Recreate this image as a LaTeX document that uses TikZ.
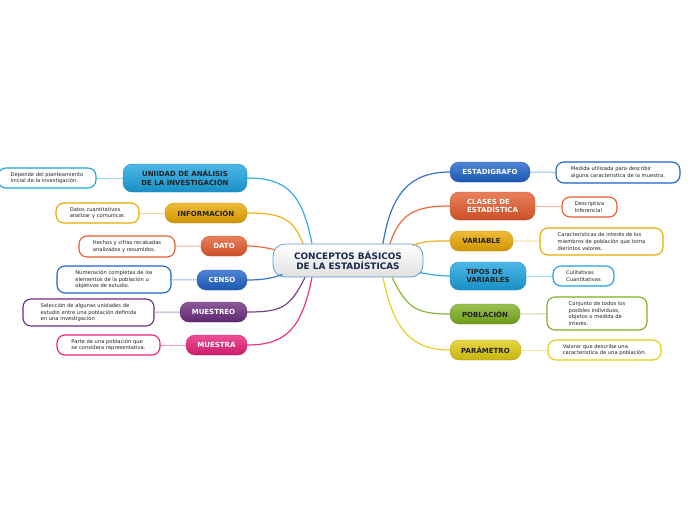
\documentclass[tikz,border=0pt]{standalone}
\usepackage{fontspec}
\setmainfont{DejaVu Sans}
\usetikzlibrary{calc}
\definecolor{cblue}{HTML}{1E63C8}
\definecolor{corange}{HTML}{E55B2D}
\definecolor{cgold}{HTML}{EBA900}
\definecolor{clight}{HTML}{1BA3E0}
\definecolor{cgreen}{HTML}{7DAF1E}
\definecolor{cyellow}{HTML}{E3CB10}
\definecolor{cpurple}{HTML}{6B2C7E}
\definecolor{cpink}{HTML}{E91E7A}
\definecolor{cnavy}{HTML}{1A2850}
\definecolor{cborder}{HTML}{5B9BD5}
\definecolor{ctext}{HTML}{222222}
\tikzset{
  br/.style={rounded corners=9pt, inner sep=0pt, align=center,
    font=\fontsize{7}{8.6}\selectfont\bfseries,
    top color=#1!78!white, bottom color=#1!88!black, draw=#1!80!black, line width=0.3pt},
  wt/.style={text=white},
  dk/.style={text=ctext},
  nt/.style={draw=#1, line width=1.1pt, rounded corners=8pt, fill=white, inner sep=0pt,
    align=left, text=ctext, font=\fontsize{5.2}{6.8}\selectfont},
  conn/.style={draw=#1!90!white, line width=1.2pt},
  nl/.style={draw=#1!45!white, line width=1pt},
}
\begin{document}
\begin{tikzpicture}[x=1pt,y=-1pt]
\useasboundingbox (0,0) rectangle (696,520);
% central
\node[draw=cborder, line width=0.8pt, rounded corners=12pt, top color=white, bottom color=black!12!white,
  minimum width=150pt, minimum height=33pt, inner sep=0pt, align=center, text=cnavy,
  font=\fontsize{8.9}{10.6}\selectfont\bfseries] (c) at (348,260.5) {CONCEPTOS BÁSICOS\\DE LA ESTADÍSTICAS};
% right branches
\node[br=cblue, wt, minimum width=80pt, minimum height=20pt] (est) at (490,172) {ESTADIGRAFO};
\node[br=corange, wt, minimum width=85pt, minimum height=28pt, align=left] (cla) at (492.5,206) {CLASES DE\\ESTADÍSTICA};
\node[br=cgold, dk, minimum width=63pt, minimum height=20pt] (var) at (481.5,241) {VARIABLE};
\node[br=clight, dk, minimum width=76pt, minimum height=28pt, align=left] (tip) at (488,276) {TIPOS DE\\VARIABLES};
\node[br=cgreen, dk, minimum width=70pt, minimum height=20pt] (pob) at (485,314) {POBLACIÓN};
\node[br=cyellow, dk, minimum width=71pt, minimum height=20pt] (par) at (485.5,350) {PARÁMETRO};
% right notes
\node[nt=cblue, minimum width=124pt, minimum height=21pt] (nest) at (618,172.5) {Medida utilizada para describir\\alguna caracteristica de la muestra.};
\node[nt=corange, minimum width=55pt, minimum height=20pt] (ncla) at (589.5,207) {Descriptiva\\Inferencial};
\node[nt=cgold, minimum width=123pt, minimum height=27pt] (nvar) at (601.5,241.5) {Características de interés de los\\miembros de población que toma\\dierintos valores.};
\node[nt=clight, minimum width=61pt, minimum height=20pt] (ntip) at (583.5,276) {Culitativas\\Cuantitativas};
\node[nt=cgreen, minimum width=100pt, minimum height=33pt] (npob) at (597,313.5) {Conjunto de todos los\\posibles individuos,\\objetos o medida de\\interés.};
\node[nt=cyellow, minimum width=113pt, minimum height=20pt] (npar) at (604.5,350) {Valorar que describe una\\caracteristica de una población.};
% left branches
\node[br=clight, dk, minimum width=124pt, minimum height=28pt] (uni) at (185,178) {UNIIDAD DE ANÁLISIS\\DE LA INVESTIGACIÓN};
\node[br=cgold, dk, minimum width=82pt, minimum height=20pt] (inf) at (206,213) {INFORMACIÓN};
\node[br=corange, wt, minimum width=46pt, minimum height=20pt] (dat) at (224,246) {DATO};
\node[br=cblue, wt, minimum width=50pt, minimum height=20pt] (cen) at (222,280) {CENSO};
\node[br=cpurple, wt, minimum width=67pt, minimum height=20pt] (mtr) at (213.5,312) {MUESTREO};
\node[br=cpink, wt, minimum width=61pt, minimum height=20pt] (mta) at (216.5,345) {MUESTRA};
% left notes
\node[nt=clight, minimum width=98pt, minimum height=20pt] (nuni) at (47,178) {Depende del planteamiento\\inicial de la investigación.};
\node[nt=cgold, minimum width=83pt, minimum height=20pt] (ninf) at (97.5,213) {Datos cuantitativos\\analizar y comunicar.};
\node[nt=corange, minimum width=96pt, minimum height=21pt] (ndat) at (127,246.5) {Hechos y cifras recabadas\\analizados y resumidos.};
\node[nt=cblue, minimum width=114pt, minimum height=27pt] (ncen) at (114,279.5) {Numeración completas de los\\elementos de la población u\\objetivos de estudio.};
\node[nt=cpurple, minimum width=131pt, minimum height=27pt] (nmtr) at (88.5,312.5) {Selección de algunas unidades de\\estudio entre una población definida\\en una investigación};
\node[nt=cpink, minimum width=103pt, minimum height=20pt] (nmta) at (108.5,345) {Parte de una población que\\se considera representativa.};
% connectors central -> branches
\path[conn=cblue] ($(c.north)+(35,0)$) .. controls +(8,-50) and +(-40,0) .. (est.west);
\path[conn=corange] ($(c.north)+(42,0)$) .. controls +(10,-30) and +(-35,0) .. (cla.west);
\path[conn=cgold] ($(c.north)+(65,2)$) .. controls +(10,-5) and +(-15,0) .. (var.west);
\path[conn=clight] ($(c.east)+(-4,12)$) .. controls +(10,2) and +(-10,0) .. (tip.west);
\path[conn=cgreen] ($(c.south)+(44,0)$) .. controls +(15,30) and +(-35,0) .. (pob.west);
\path[conn=cyellow] ($(c.south)+(35,0)$) .. controls +(10,50) and +(-40,0) .. (par.west);
\path[conn=clight] ($(c.north)+(-36,0)$) .. controls +(-10,-50) and +(40,0) .. (uni.east);
\path[conn=cgold] ($(c.north)+(-45,0)$) .. controls +(-10,-25) and +(35,0) .. (inf.east);
\path[conn=corange] ($(c.west)+(2,-11)$) .. controls +(-10,-2) and +(10,0) .. (dat.east);
\path[conn=cblue] ($(c.west)+(10,14)$) .. controls +(-12,4) and +(15,0) .. (cen.east);
\path[conn=cpurple] ($(c.south)+(-43,0)$) .. controls +(-15,30) and +(35,0) .. (mtr.east);
\path[conn=cpink] ($(c.south)+(-36,0)$) .. controls +(-10,50) and +(40,0) .. (mta.east);
% branch -> note lines
\path[nl=cblue] (est) -- (nest);
\path[nl=corange] (cla) -- (ncla);
\path[nl=cgold] (var) -- (nvar);
\path[nl=clight] (tip) -- (ntip);
\path[nl=cgreen] (pob) -- (npob);
\path[nl=cyellow] (par) -- (npar);
\path[nl=clight] (uni) -- (nuni);
\path[nl=cgold] (inf) -- (ninf);
\path[nl=corange] (dat) -- (ndat);
\path[nl=cblue] (cen) -- (ncen);
\path[nl=cpurple] (mtr) -- (nmtr);
\path[nl=cpink] (mta) -- (nmta);
\end{tikzpicture}
\end{document}
